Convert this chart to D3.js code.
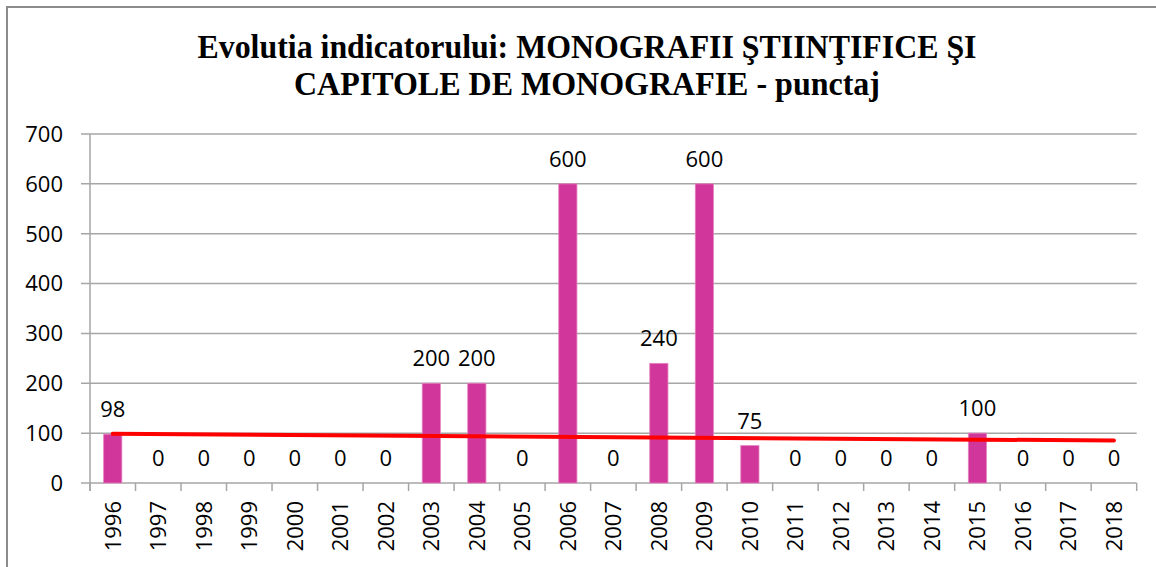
<!DOCTYPE html>
<html>
<head>
<meta charset="utf-8">
<script src="https://cdn.jsdelivr.net/npm/d3@7"></script>
<style>
  body { margin: 0; background: #fff; }
  svg { display: block; }
  .title { font-family: 'Liberation Serif', 'Times New Roman', Times, serif; font-weight: bold; }
  .lbl { font-family: 'Open Sans', 'Liberation Sans', sans-serif; }
</style>
</head>
<body>
<div id="chart"></div>
<script>
// data
const years = ['1996', '1997', '1998', '1999', '2000', '2001', '2002', '2003', '2004', '2005', '2006', '2007',
  '2008', '2009', '2010', '2011', '2012', '2013', '2014', '2015', '2016', '2017', '2018'];
const punctaj = [98, 0, 0, 0, 0, 0, 0, 200, 200, 0, 600, 0, 240, 600, 75, 0, 0, 0, 0, 100, 0, 0, 0];
const yTicks = [0, 100, 200, 300, 400, 500, 600, 700];
const titleLines = ['Evolutia indicatorului: MONOGRAFII ŞTIINŢIFICE ŞI', 'CAPITOLE DE MONOGRAFIE - punctaj'];

const W = 1156, H = 567;
const margin = {top: 134, right: 19.3, bottom: 84, left: 90};
const width = W - margin.left - margin.right;
const height = H - margin.top - margin.bottom;

const svg = d3.select('#chart')
  .append('svg')
    .attr('width', W)
    .attr('height', H);

// chart frame (only top and left visible)
svg.append('path')
  .attr('d', 'M7,' + H + ' V7 H' + W)
  .attr('fill', 'none')
  .attr('stroke', '#8c8c8c')
  .attr('stroke-width', 2);

// title
const titleWidths = [779, 586];
const titleBase = [58, 95];
titleLines.forEach((t, i) => {
  svg.append('text')
    .attr('class', 'title')
    .attr('x', 587)
    .attr('y', titleBase[i])
    .attr('text-anchor', 'middle')
    .attr('font-size', 33)
    .attr('textLength', titleWidths[i])
    .attr('lengthAdjust', 'spacingAndGlyphs')
    .text(t);
});

const g = svg.append('g')
  .attr('transform', 'translate(' + margin.left + ',' + margin.top + ')');

const x = d3.scaleBand()
  .domain(years)
  .range([0, width])
  .paddingInner(0.6)
  .paddingOuter(0.3);

const y = d3.scaleLinear()
  .domain([0, 700])
  .range([height, 0]);

// gridlines + y axis
g.selectAll('.grid')
  .data(yTicks)
  .enter()
  .append('line')
    .attr('x1', -9)
    .attr('x2', width)
    .attr('y1', d => y(d))
    .attr('y2', d => y(d))
    .attr('stroke', '#a6a6a6')
    .attr('stroke-width', 1.5);

g.append('line')
  .attr('x1', 0).attr('x2', 0)
  .attr('y1', 0).attr('y2', height + 8)
  .attr('stroke', '#a6a6a6')
  .attr('stroke-width', 1.5);

g.selectAll('.ylab')
  .data(yTicks)
  .enter()
  .append('text')
    .attr('class', 'lbl')
    .attr('x', -27)
    .attr('y', d => y(d))
    .attr('dy', '0.36em')
    .attr('text-anchor', 'end')
    .attr('font-size', 22)
    .text(d => d);

// x axis ticks at category boundaries
const step = x.step();
g.selectAll('.xtick')
  .data(d3.range(years.length + 1))
  .enter()
  .append('line')
    .attr('x1', i => i * step)
    .attr('x2', i => i * step)
    .attr('y1', height)
    .attr('y2', height + 8)
    .attr('stroke', '#a6a6a6')
    .attr('stroke-width', 1.5);

g.selectAll('.xlab')
  .data(years)
  .enter()
  .append('text')
    .attr('class', 'lbl')
    .attr('transform', d => 'translate(' + (x(d) + x.bandwidth() / 2) + ',' + (height + 18) + ') rotate(-90)')
    .attr('dy', '0.36em')
    .attr('text-anchor', 'end')
    .attr('font-size', 22)
    .text(d => d);

// bars
g.selectAll('.bar')
  .data(punctaj)
  .enter()
  .append('rect')
    .attr('x', (d, i) => x(years[i]))
    .attr('width', x.bandwidth())
    .attr('y', d => y(d))
    .attr('height', d => height - y(d))
    .attr('fill', '#d1379a')
    .attr('stroke', '#e683c2')
    .attr('stroke-width', 0.8);

// value labels
g.selectAll('.val')
  .data(punctaj)
  .enter()
  .append('text')
    .attr('class', 'lbl')
    .attr('x', (d, i) => x(years[i]) + x.bandwidth() / 2)
    .attr('y', d => y(d) - 17)
    .attr('text-anchor', 'middle')
    .attr('font-size', 22)
    .text(d => d);

// linear trendline (least squares over category index)
const idx = d3.range(punctaj.length);
const mx = d3.mean(idx), my = d3.mean(punctaj);
const slope = d3.sum(idx, i => (i - mx) * (punctaj[i] - my)) / d3.sum(idx, i => (i - mx) * (i - mx));
const icpt = my - slope * mx;
const trend = [0, punctaj.length - 1].map(i => [x(years[i]) + x.bandwidth() / 2, y(icpt + slope * i)]);

g.append('path')
  .attr('d', d3.line()(trend))
  .attr('fill', 'none')
  .attr('stroke', '#ff0000')
  .attr('stroke-width', 4)
  .attr('stroke-linecap', 'round');
</script>
</body>
</html>
